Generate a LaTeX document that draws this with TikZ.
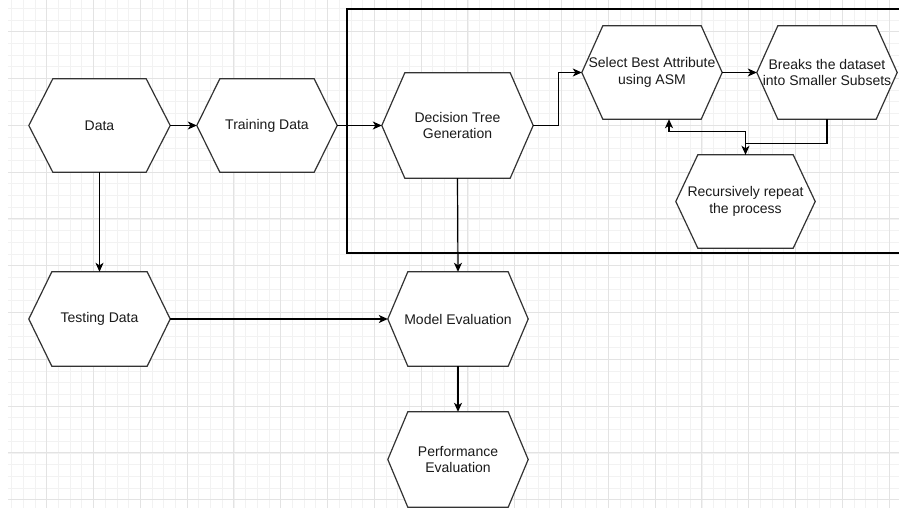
\documentclass[tikz,border=0pt]{standalone}
\usepackage{fontspec}
\setmainfont{Liberation Sans}
\usetikzlibrary{arrows.meta,calc}

\definecolor{minorgrid}{HTML}{F2F2F2}
\definecolor{majorgrid}{HTML}{E3E3E3}
\definecolor{edgecol}{HTML}{333333}
\definecolor{txtcol}{HTML}{1A1A1A}

\tikzset{
  hexlabel/.style={inner sep=0pt, align=center, text=txtcol,
    font=\fontsize{14}{16.8}\selectfont},
  hexline/.style={draw=edgecol, line width=1.2pt, line join=miter, fill=white},
  flow/.style={draw=black, line width=1.2pt,
    -{Stealth[length=9pt,width=8pt,inset=2.5pt]}},
  plainline/.style={draw=black, line width=1.2pt},
  frame/.style={draw=black, line width=1.3pt},
}

% hexagon with pointed left/right ends: name, centre, width, height, inset, text
\newcommand{\hexbox}[6]{%
  \node[hexlabel, minimum width=#3pt, minimum height=#4pt] (#1) at (#2) {};
  \draw[hexline] ($(#1.north west)+(#5,0)$) -- ($(#1.north east)+(-#5,0)$)
    -- (#1.east) -- ($(#1.south east)+(-#5,0)$) -- ($(#1.south west)+(#5,0)$)
    -- (#1.west) -- cycle;
  \node[hexlabel] at (#1.center) {#6};
}

\begin{document}
\begin{tikzpicture}[x=1pt,y=-1pt]
  \useasboundingbox (0,0) rectangle (899,508);
  \fill[white] (0,0) rectangle (899,508);

  % background grid
  \foreach \i in {0,...,76} {
    \draw[minorgrid, line width=0.8pt] ({11.6+11.7*\i},0) -- ({11.6+11.7*\i},508);
  }
  \foreach \j in {0,...,43} {
    \draw[minorgrid, line width=0.8pt] (8,{8.3+11.7*\j}) -- (899,{8.3+11.7*\j});
  }
  \foreach \i in {0,...,18} {
    \draw[majorgrid, line width=0.9pt] ({46.7+46.8*\i},0) -- ({46.7+46.8*\i},508);
  }
  \foreach \j in {0,...,10} {
    \draw[majorgrid, line width=0.9pt] (8,{31.7+46.8*\j}) -- (899,{31.7+46.8*\j});
  }

  % container around the tree-building steps (open to the right)
  \draw[frame] (905,9) -- (347,9) -- (347,253) -- (905,253);

  % process steps
  \hexbox{data}{99.5,125.5}{141}{93}{24}{Data}
  \hexbox{train}{267,125.5}{140}{93}{23}{Training Data}
  \hexbox{dtg}{457.5,125.5}{151}{105}{23}{Decision Tree\\Generation}
  \hexbox{select}{652,72.5}{140}{93}{21}{Select Best Attribute\\using ASM}
  \hexbox{breaks}{827,72.5}{140}{93}{21}{Breaks the dataset\\into Smaller Subsets}
  \hexbox{recur}{745.5,201.5}{139}{93}{22}{Recursively repeat\\the process}
  \hexbox{test}{99.5,319}{141}{94}{23}{Testing Data}
  \hexbox{model}{458,319}{140}{94}{20}{Model Evaluation}
  \hexbox{perf}{458,459.5}{140}{95}{20}{Performance\\Evaluation}

  % connectors
  \draw[flow] (data.east) -- (train.west);
  \draw[flow] (train.east) -- (dtg.west);
  \draw[flow] (dtg.east) -- ++(25,0) |- (select.west);
  \draw[flow] (select.east) -- (breaks.west);
  \draw[flow] (breaks.south) -- ++(0,24) -| (recur.north);
  \draw[flow] (recur.north) -- ++(0,-23) -| ($(select.south)+(17,0)$);
  \draw[flow] (data.south) -- (test.north);
  \draw[flow] (test.east) -- (model.west);
  \draw[flow] (dtg.south) -- (model.north);
  \draw[flow] (model.south) -- (perf.north);
\end{tikzpicture}
\end{document}
